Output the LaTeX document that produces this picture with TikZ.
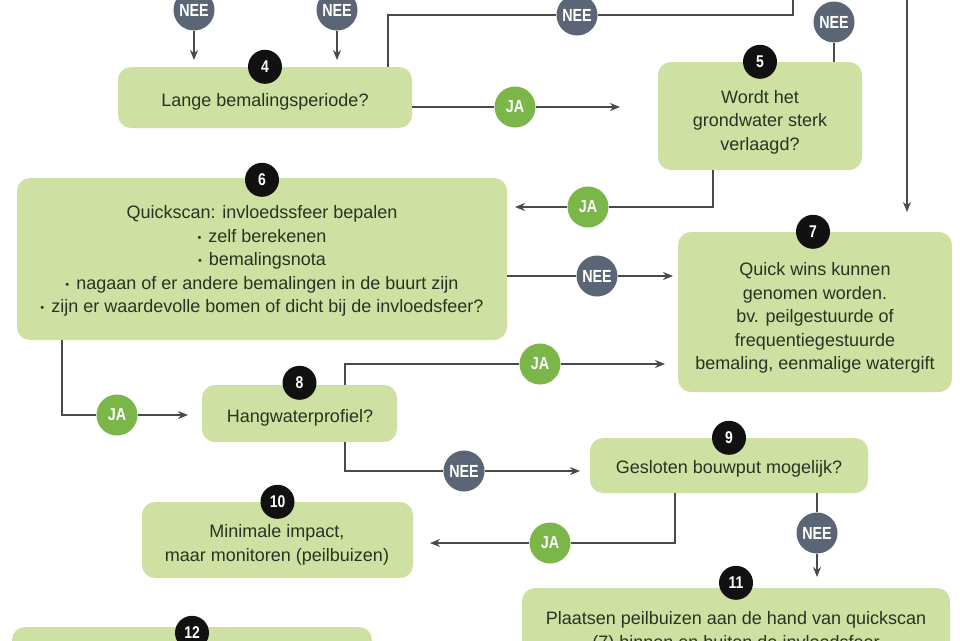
\documentclass[tikz,border=0pt]{standalone}
\usepackage{fontspec}
\setmainfont{Liberation Sans}
\newfontfamily\lblfont[FakeStretch=0.82]{Liberation Sans}
\usetikzlibrary{arrows.meta}
\definecolor{boxfill}{HTML}{CFE0A3}
\definecolor{jacol}{HTML}{7AB648}
\definecolor{neecol}{HTML}{5A6675}
\definecolor{badgecol}{HTML}{111111}
\definecolor{linecol}{HTML}{4A4A4A}
\definecolor{txtcol}{HTML}{2A3322}
\newcommand{\blt}{{\fontsize{11}{11}\selectfont\raisebox{0.15ex}{\textbullet}}\hspace{7pt}}
\begin{document}
\begin{tikzpicture}[x=1pt,y=-1pt,
  box/.style={fill=boxfill, rounded corners=13pt, inner sep=0pt},
  txt/.style={text=txtcol, align=center, inner sep=0pt, font=\fontsize{18}{23.5}\selectfont},
  badge/.style={circle, fill=badgecol, text=white, minimum size=34pt, inner sep=0pt, font=\lblfont\bfseries\fontsize{17}{17}\selectfont},
  ja/.style={circle, fill=jacol, text=white, minimum size=41pt, inner sep=0pt, font=\lblfont\bfseries\fontsize{17.5}{17.5}\selectfont},
  nee/.style={circle, fill=neecol, text=white, minimum size=41pt, inner sep=0pt, font=\lblfont\bfseries\fontsize{17.5}{17.5}\selectfont},
  conn/.style={draw=linecol, line width=2pt},
  arr/.style={conn, -{Stealth[length=10pt,width=8pt]}}]
\useasboundingbox (0,0) rectangle (960,640);
\clip (0,0) rectangle (960,640);

% boxes
\node[box, minimum width=294pt, minimum height=61pt] (b4) at (265,97.5) {};
\node[box, minimum width=204pt, minimum height=108pt] (b5) at (760,116) {};
\node[box, minimum width=490pt, minimum height=162pt] (b6) at (262,259) {};
\node[box, minimum width=274pt, minimum height=160pt] (b7) at (815,312) {};
\node[box, minimum width=195pt, minimum height=57pt] (b8) at (299.5,413.5) {};
\node[box, minimum width=278pt, minimum height=55pt] (b9) at (729,465.5) {};
\node[box, minimum width=271pt, minimum height=76pt] (b10) at (277.5,540) {};
\node[box, minimum width=428pt, minimum height=124pt] (b11) at (736,650) {};
\node[box, minimum width=360pt, minimum height=106pt] (b12) at (192,680) {};

% texts
\node[txt] (t4) at (265,102) {Lange bemalingsperiode?};
\node[txt] (t5) at (760,122) {Wordt het\\grondwater sterk\\verlaagd?};
\node[txt] (t6) at (262,261) {Quickscan: invloedssfeer bepalen\\
  \blt zelf berekenen\\
  \blt bemalingsnota\\
  \blt nagaan of er andere bemalingen in de buurt zijn\\
  \blt zijn er waardevolle bomen of dicht bij de invloedsfeer?};
\node[txt] (t7) at (815,318) {Quick wins kunnen\\genomen worden.\\bv. peilgestuurde of\\frequentiegestuurde\\bemaling, eenmalige watergift};
\node[txt] (t8) at (300,418) {Hangwaterprofiel?};
\node[txt] (t9) at (729,469) {Gesloten bouwput mogelijk?};
\node[txt] (t10) at (277,545) {Minimale impact,\\maar monitoren (peilbuizen)};
\node[txt] (t11) at (736,632) {Plaatsen peilbuizen aan de hand van quickscan\\(7) binnen en buiten de invloedsfeer};

% badges
\node[badge] (k4) at (b4.north) {4};
\node[badge] (k5) at (b5.north) {5};
\node[badge] (k6) at ([yshift=-2pt]b6.north) {6};
\node[badge] (k7) at ([xshift=-2pt]b7.north) {7};
\node[badge] (k8) at ([yshift=2pt]b8.north) {8};
\node[badge] (k9) at (b9.north) {9};
\node[badge] (k10) at (b10.north) {10};
\node[badge] (k11) at ([yshift=5pt]b11.north) {11};
\node[badge] (k12) at ([yshift=-6pt]b12.north) {12};

% label circles
\node[nee] (n1) at (194,10) {NEE};
\node[nee] (n2) at (337,10) {NEE};
\node[nee] (n3) at (577,15) {NEE};
\node[nee] (n5) at (834,22) {NEE};
\node[ja] (j1) at (515,107) {JA};
\node[ja] (j2) at (588,207) {JA};
\node[nee] (n8) at (597,276) {NEE};
\node[ja] (j9) at (117,415) {JA};
\node[ja] (j10) at (540,364) {JA};
\node[nee] (n11) at (464,471) {NEE};
\node[ja] (j12) at (550,543) {JA};
\node[nee] (n13) at (817,533) {NEE};

% free ends
\coordinate (a1) at (194,60);
\coordinate (a2) at (337,60);
\coordinate (c3) at (793,-5);
\coordinate (c4) at (620,107);
\coordinate (c6a) at (907,-5);
\coordinate (c6b) at (907,212);
\coordinate (c7) at (515,207);
\coordinate (c8) at (673,276);
\coordinate (c9) at (188,415);
\coordinate (c10) at (665,364);
\coordinate (c11) at (580,471);
\coordinate (c12) at (430,543);
\coordinate (c13) at (817,577);

% connectors
\draw[arr] (n1) -- (a1);
\draw[arr] (n2) -- (a2);
\draw[conn] ([xshift=-24pt]b4.north east) |- (n3) -| (c3);
\draw[arr] (b4.east |- j1) -- (j1) -- (c4);
\draw[conn] (n5 |- b5.north) -- (n5);
\draw[arr] (c6a) -- (c6b);
\draw[arr] ([xshift=-47pt]b5.south) |- (j2) -- (c7);
\draw[arr] (b6.east |- n8) -- (n8) -- (c8);
\draw[arr] ([xshift=45pt]b6.south west) |- (j9) -- (c9);
\draw[arr] ([xshift=-52pt]b8.north east) |- (j10) -- (c10);
\draw[arr] ([xshift=-52pt]b8.south east) |- (n11) -- (c11);
\draw[arr] ([xshift=85pt]b9.south west) |- (j12) -- (c12);
\draw[arr] (n13 |- b9.south) -- (n13) -- (c13);
\end{tikzpicture}
\end{document}
